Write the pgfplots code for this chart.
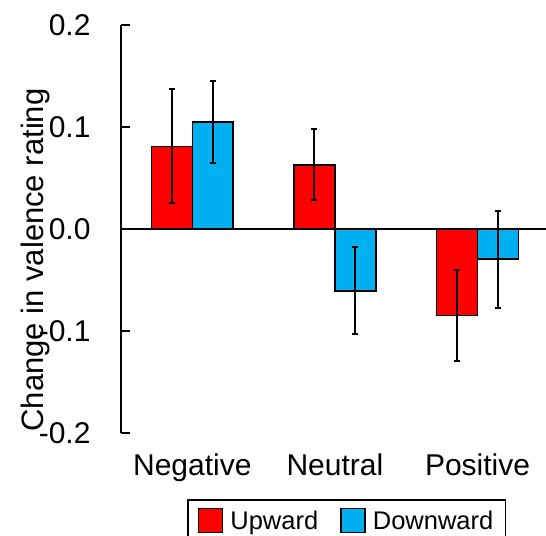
\documentclass[border=0pt]{standalone}
\usepackage{fontspec}
\setmainfont{Liberation Sans}
\usepackage{pgfplots}
\pgfplotsset{compat=1.18}
\definecolor{upred}{RGB}{255,0,0}
\definecolor{downblue}{RGB}{0,176,240}
\begin{document}
\begin{tikzpicture}
\begin{axis}[
  at={(121bp,103bp)}, anchor=south west,
  scale only axis, width=425bp, height=408bp,
  xmin=-0.5, xmax=2.48, ymin=-0.2, ymax=0.2,
  axis x line*=bottom, axis y line*=left,
  x axis line style={draw=none},
  y axis line style={line width=1.6bp, black},
  xtick={0,1,2}, xticklabels={Negative,Neutral,Positive},
  xtick style={draw=none},
  ytick={-0.2,-0.1,0,0.1,0.2},
  yticklabels={-0.2,-0.1,0.0,0.1,0.2},
  ytick align=inside, major tick length=9bp,
  ytick style={line width=1.6bp, black},
  tick label style={font=\fontsize{30bp}{36bp}\selectfont},
  yticklabel style={xshift=-27bp},
  xticklabel style={yshift=-8bp},
  ylabel={Change in valence rating},
  ylabel style={at={(axis description cs:-0.1835,0.424)}, anchor=base, font=\fontsize{31bp}{37bp}\selectfont},
  extra y ticks={0}, extra y tick labels={},
  extra y tick style={grid=major, major grid style={line width=1.6bp, black}, ytick style={draw=none}},
  ybar,
  legend image code/.code={\draw[#1] (0bp,-12bp) rectangle (24bp,12bp); \path (29bp,0bp);},
  legend columns=2,
  legend style={at={(axis description cs:0.1553,-0.1618)}, anchor=north west, draw=black, line width=1.6bp,
    font=\fontsize{25.5bp}{30bp}\selectfont, inner xsep=10bp, inner ysep=8bp,
    /tikz/every even column/.append style={column sep=20bp}},
]
\addplot[fill=upred, draw=black, line width=1.6bp, bar width=0.287, bar shift=-0.1435,
  error bars/.cd, y dir=both, y explicit,
  error bar style={line width=2bp, black},
  error mark options={rotate=90, mark size=3bp, line width=2bp, black}]
  coordinates {(0,0.081) +- (0,0.056) (1,0.063) +- (0,0.035) (2,-0.085) +- (0,0.0445)};
\addlegendentry{Upward}
\addplot[fill=downblue, draw=black, line width=1.6bp, bar width=0.287, bar shift=0.1435,
  error bars/.cd, y dir=both, y explicit,
  error bar style={line width=2bp, black},
  error mark options={rotate=90, mark size=3bp, line width=2bp, black}]
  coordinates {(0,0.105) +- (0,0.0405) (1,-0.0605) +- (0,0.0425) (2,-0.0297) +- (0,0.0477)};
\addlegendentry{Downward}
\end{axis}
\pgfresetboundingbox
\path[use as bounding box] (0,0) rectangle (546bp,536bp);
\end{tikzpicture}
\end{document}
